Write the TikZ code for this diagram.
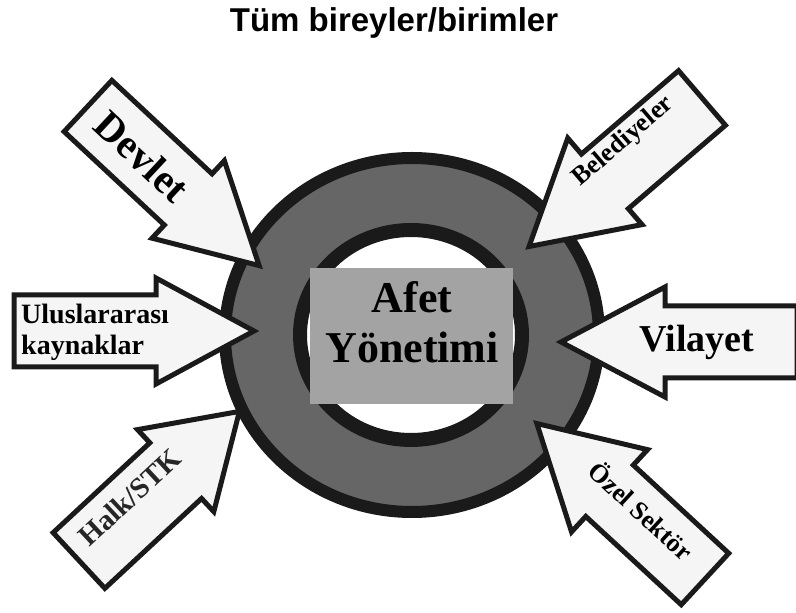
\documentclass[tikz,border=0pt]{standalone}
\usepackage{fontspec}
\setmainfont{Liberation Serif}
\newfontfamily\titlefont{Liberation Sans}
\definecolor{ringgray}{HTML}{666666}
\definecolor{edgeblack}{HTML}{1A1A1A}
\definecolor{boxgray}{HTML}{A3A3A3}
\definecolor{arrowfill}{HTML}{F5F5F5}
\newcommand{\fs}[1]{\fontsize{#1}{#1}\selectfont}
\newcommand{\bigarrow}[7]{%
  \begin{scope}[shift={(#1)}, rotate=#2]
    \draw[arrowbody] (0,-#4) -- ({#3-#6},-#4) -- ({#3-#6},-#5) -- (#3,0)
      -- ({#3-#6},#5) -- ({#3-#6},#4) -- (0,#4) -- cycle;
    #7
  \end{scope}}
\begin{document}
\begin{tikzpicture}[x=1pt, y=1pt,
  arrowbody/.style={draw=edgeblack, fill=arrowfill, line width=5pt, line join=miter},
  lbl/.style={inner sep=0pt, font=\bfseries},
  ringouter/.style={draw=edgeblack, fill=ringgray, line width=12pt},
  ringinner/.style={draw=edgeblack, fill=white, line width=14pt}]
\useasboundingbox (0,0) rectangle (796,613);
\fill[white] (0,0) rectangle (796,613);

% title
\node[lbl, font=\titlefont\bfseries\fs{33}, anchor=base] (title) at (394,581) {Tüm bireyler/birimler};

% ring
\draw[ringouter] (412,278) ellipse [x radius=187, y radius=177];
\draw[ringinner] (411,278) ellipse [x radius=111, y radius=105];

% centre box
\node[fill=boxgray, minimum width=203pt, minimum height=136pt, inner sep=0pt] (box) at (411.5,277) {};
\node[lbl, font=\bfseries\fs{44}, anchor=base] (afet) at (412,300) {Afet};
\node[lbl, font=\bfseries\fs{44}, anchor=base] (yonetimi) at (412,250) {Yönetimi};

% arrows
\bigarrow{88,507}{-43}{234}{35}{53}{97}{%
  \node[lbl, font=\bfseries\fs{41}, rotate=-43] (devlet) at (74,0) {Devlet};}
\bigarrow{702,515}{220.65}{228}{36}{57}{100}{%
  \node[lbl, font=\bfseries\fs{26}, rotate=40.65] (belediyeler) at (88,-18) {Belediyeler};}
\bigarrow{14,282}{0}{240}{36}{53}{98}{}
\node[lbl, font=\bfseries\fs{28}, align=left, anchor=west] (ulus) at (21,281) {Uluslararası\\[3pt]kaynaklar};
\bigarrow{797,271}{180}{236}{36}{55}{104}{%
  \node[lbl, font=\bfseries\fs{38}] (vilayet) at (100,0) {Vilayet};}
\bigarrow{79,52.5}{42.9}{219}{38}{56}{87}{%
  \node[lbl, font=\bfseries\fs{29}, rotate=42.9, text=black!85] (halk) at (80,12) {Halk/STK};}
\bigarrow{705,34}{137.25}{229}{35}{56}{99}{%
  \node[lbl, font=\bfseries\fs{26}, rotate=-42.75] (ozel) at (93,-8) {Özel Sektör};}
\end{tikzpicture}
\end{document}
